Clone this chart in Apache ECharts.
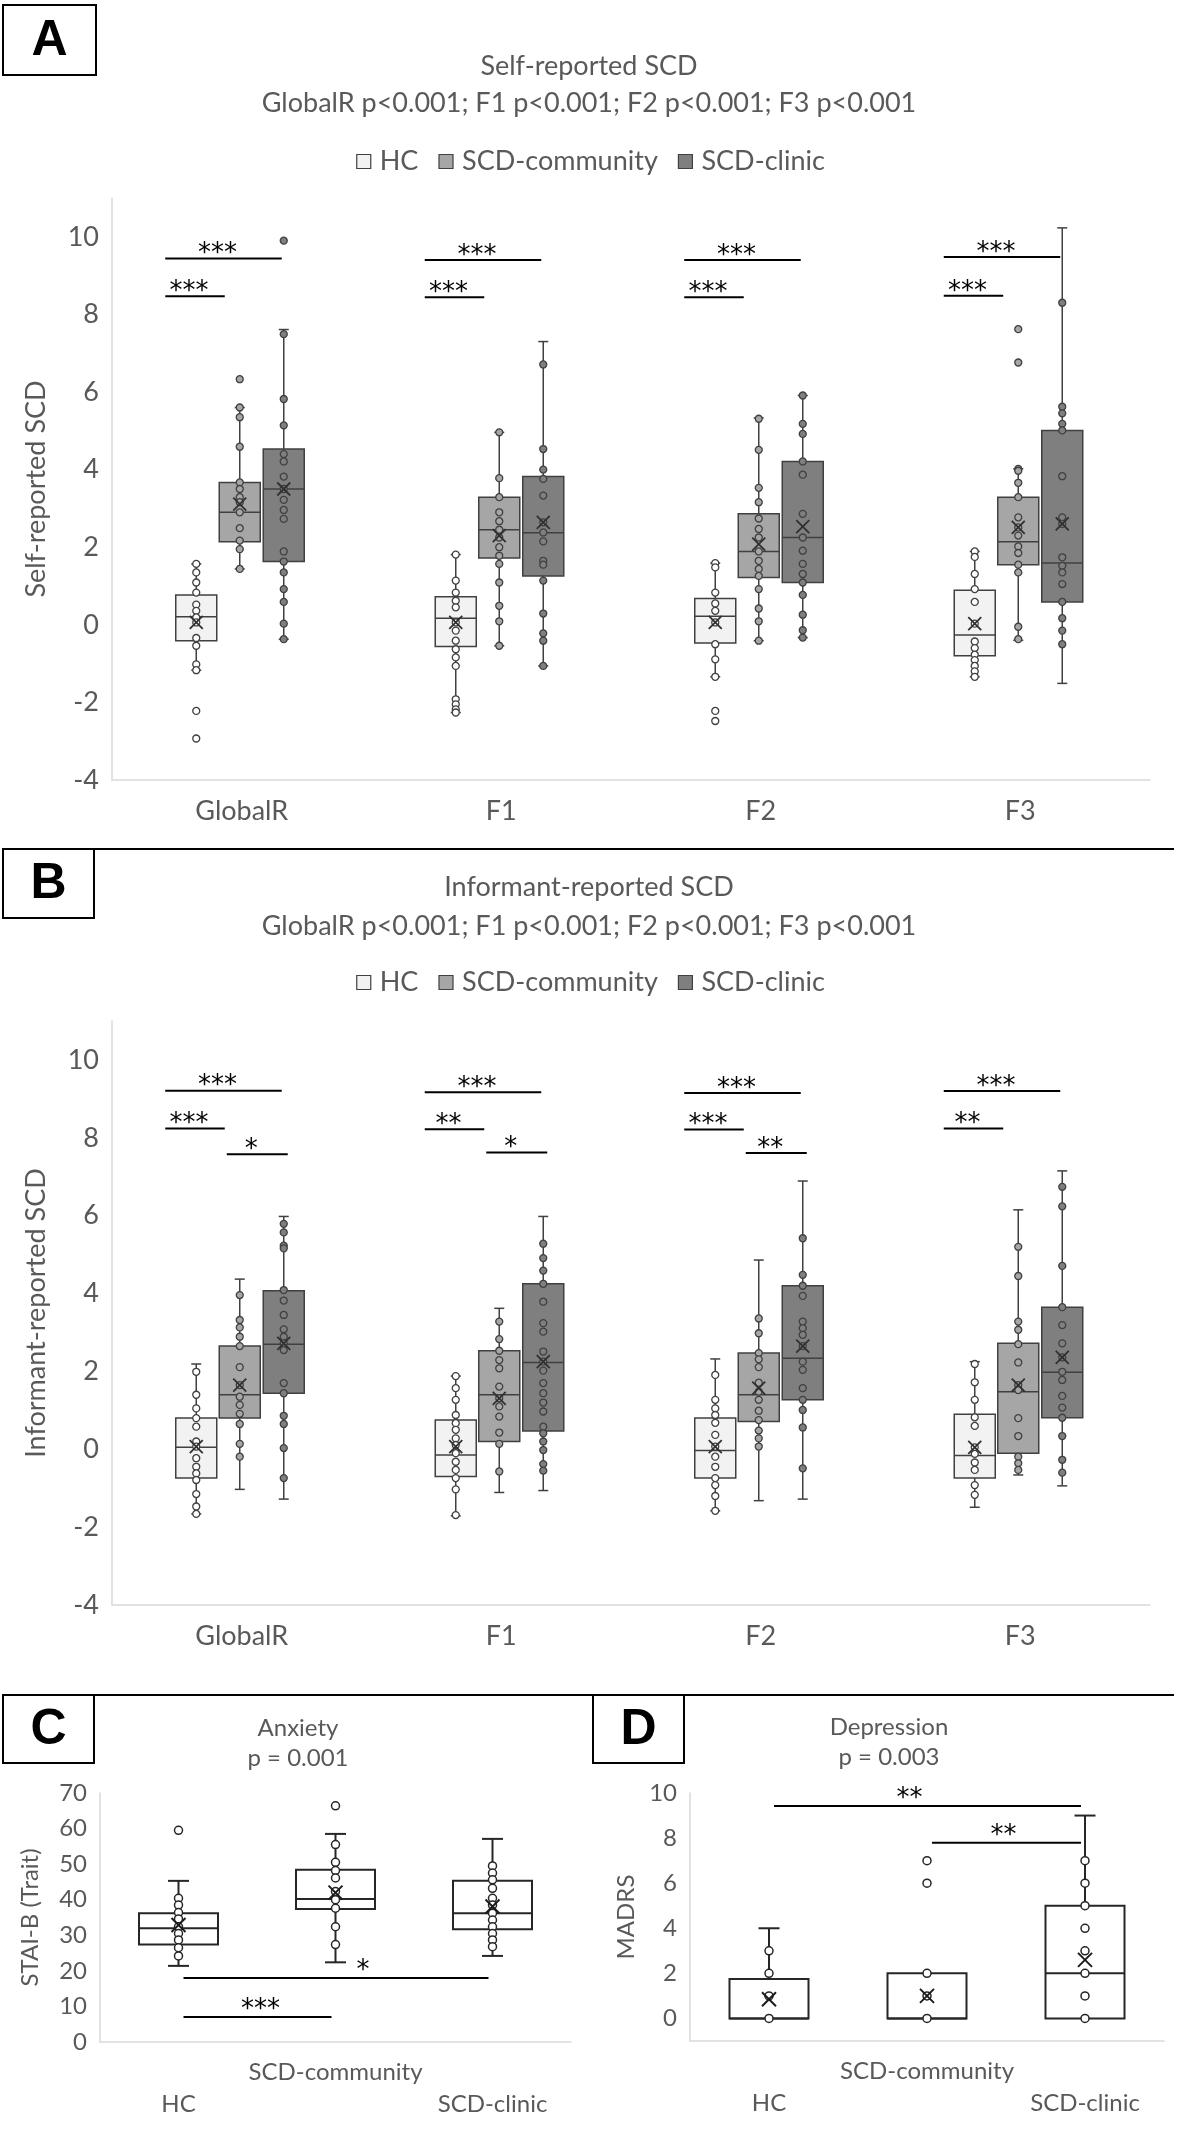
<!DOCTYPE html>
<html><head><meta charset="utf-8">
<script src="https://cdn.jsdelivr.net/npm/echarts@6/dist/echarts.min.js"></script>
<style>html,body{margin:0;padding:0;background:#fff}#c{width:1181px;height:2138px}</style>
</head><body><div id="c"></div>
<script>
// ---------- DATA ----------
const factorCats = ['GlobalR', 'F1', 'F2', 'F3'];
const groupNames = ['HC', 'SCD-community', 'SCD-clinic'];
const moodCats = ['HC', 'SCD-community', 'SCD-clinic'];

// box stats per category: [whiskerLow, Q1, median, Q3, whiskerHigh, mean]
const selfBoxHC = [[-1.17, -0.41, 0.21, 0.77, 1.57, 0.06], [-2.26, -0.56, 0.17, 0.72, 1.81, 0.06], [-1.34, -0.47, 0.22, 0.68, 1.59, 0.06], [-1.34, -0.80, -0.26, 0.89, 1.89, 0.03]];
const selfBoxComm = [[1.44, 2.14, 2.90, 3.67, 5.60, 3.11], [-0.54, 1.72, 2.45, 3.29, 4.96, 2.30], [-0.41, 1.22, 1.89, 2.86, 5.33, 2.08], [-0.40, 1.55, 2.14, 3.29, 4.02, 2.51]];
const selfBoxClinic = [[-0.37, 1.63, 3.50, 4.53, 7.61, 3.50], [-1.06, 1.26, 2.37, 3.82, 7.30, 2.64], [-0.33, 1.09, 2.25, 4.21, 5.91, 2.53], [-1.51, 0.59, 1.59, 5.01, 10.23, 2.60]];

const selfPtsHC = [
  [1.57, 1.35, 1.09, 0.83, 0.52, 0.36, 0.19, 0.06, -0.34, -0.54, -1.02, -1.17, -2.22, -2.93],
  [1.81, 1.14, 0.83, 0.62, 0.45, 0.06, -0.15, -0.41, -0.63, -0.84, -1.06, -1.92, -2.05, -2.18, -2.26],
  [1.59, 1.48, 0.83, 0.55, 0.36, 0.06, -0.50, -0.89, -1.34, -2.22, -2.48],
  [1.89, 1.75, 1.31, 0.92, 0.59, 0.03, -0.43, -0.60, -0.77, -0.91, -1.06, -1.20, -1.34]];
const selfPtsComm = [
  [6.33, 5.60, 5.35, 4.59, 3.67, 3.50, 3.29, 3.16, 2.90, 2.49, 2.17, 1.95, 1.44],
  [4.96, 3.78, 3.29, 2.90, 2.67, 2.45, 2.25, 2.00, 1.78, 1.57, 1.09, 0.49, 0.09, -0.54],
  [5.31, 4.51, 3.53, 3.16, 2.74, 2.47, 2.25, 1.89, 1.65, 1.44, 1.26, 0.92, 0.42, 0.09, -0.41],
  [7.62, 6.76, 4.02, 3.97, 3.66, 3.29, 2.77, 2.51, 2.30, 2.02, 1.85, 1.55, 1.35, -0.05, -0.37]];
const selfPtsClinic = [
  [9.90, 7.49, 5.82, 5.14, 4.40, 4.21, 3.82, 3.50, 3.22, 2.96, 2.73, 1.89, 1.63, 1.35, 0.92, 0.59, 0.03, -0.37],
  [6.71, 4.53, 4.00, 3.76, 3.33, 2.64, 2.38, 2.15, 1.65, 1.55, 1.14, 0.29, -0.22, -0.41, -1.06],
  [5.91, 5.18, 4.92, 4.21, 3.87, 2.86, 2.25, 1.91, 1.57, 1.31, 1.09, 0.77, 0.26, -0.14, -0.33],
  [8.30, 5.62, 5.45, 5.18, 5.01, 3.83, 2.77, 2.60, 1.74, 1.52, 1.35, 1.05, 0.59, 0.17, -0.15, -0.50]];

const infBoxHC = [[-1.66, -0.74, 0.05, 0.80, 2.19, 0.07], [-1.71, -0.70, -0.15, 0.75, 1.88, 0.07], [-1.58, -0.74, -0.03, 0.80, 2.32, 0.07], [-1.49, -0.74, -0.16, 0.90, 2.25, 0.05]];
const infBoxComm = [[-1.03, 0.80, 1.40, 2.65, 4.37, 1.65], [-1.11, 0.20, 1.40, 2.53, 3.62, 1.31], [-1.32, 0.71, 1.40, 2.47, 4.86, 1.57], [-0.66, -0.10, 1.48, 2.72, 6.15, 1.65]];
const infBoxClinic = [[-1.28, 1.44, 2.70, 4.07, 5.98, 2.72], [-1.06, 0.47, 2.23, 4.25, 5.98, 2.25], [-1.28, 1.27, 2.34, 4.20, 6.89, 2.65], [-0.94, 0.81, 1.98, 3.65, 7.15, 2.36]];

const infPtsHC = [
  [1.99, 1.40, 1.05, 0.80, 0.58, 0.20, 0.07, -0.23, -0.45, -0.62, -0.79, -1.15, -1.47, -1.66],
  [1.88, 1.57, 1.27, 0.88, 0.67, 0.50, 0.28, 0.11, -0.10, -0.32, -0.53, -0.74, -1.03, -1.69],
  [1.91, 1.27, 1.05, 0.88, 0.68, 0.37, 0.07, -0.19, -0.45, -0.74, -0.92, -1.20, -1.58],
  [2.19, 1.72, 1.27, 0.82, 0.60, 0.05, -0.12, -0.34, -0.53, -0.92, -1.17]];
const infPtsComm = [
  [3.96, 3.32, 3.13, 2.89, 2.65, 2.11, 1.65, 1.35, 1.14, 0.91, 0.65, 0.14, -0.19],
  [3.28, 2.83, 2.53, 2.29, 2.08, 1.61, 1.31, 1.10, 0.84, 0.43, 0.14, -0.57],
  [3.36, 2.98, 2.47, 2.31, 2.11, 1.71, 1.48, 1.27, 0.99, 0.75, 0.48, 0.28, 0.07],
  [5.20, 4.45, 3.28, 3.07, 2.70, 2.23, 1.65, 1.52, 0.80, 0.34, -0.19, -0.36, -0.53]];
const infPtsClinic = [
  [5.79, 5.57, 5.23, 5.16, 4.09, 3.82, 3.45, 3.08, 2.89, 2.72, 2.55, 1.70, 1.44, 0.86, 0.65, 0.03, -0.74],
  [5.28, 4.91, 4.59, 4.25, 3.79, 3.24, 3.02, 2.51, 2.25, 2.02, 1.70, 1.44, 1.20, 0.97, 0.58, 0.41, 0.20, -0.02, -0.38, -0.55],
  [5.42, 4.48, 4.20, 3.94, 3.28, 3.11, 2.94, 2.65, 2.25, 2.04, 1.57, 1.27, 1.01, 0.56, -0.49],
  [6.74, 6.24, 4.71, 3.65, 3.19, 2.72, 2.36, 1.99, 1.78, 1.37, 1.07, 0.81, 0.34, -0.27, -0.60]];

// significance: [category, fromGroup, toGroup, level, stars]
const selfSig = [[0, 0, 2, 9.44, '***'], [0, 0, 1, 8.47, '***'], [1, 0, 2, 9.40, '***'], [1, 0, 1, 8.44, '***'],
  [2, 0, 2, 9.40, '***'], [2, 0, 1, 8.44, '***'], [3, 0, 2, 9.48, '***'], [3, 0, 1, 8.48, '***']];
const infSig = [[0, 0, 2, 9.21, '***'], [0, 0, 1, 8.24, '***'], [0, 1, 2, 7.58, '*'],
  [1, 0, 2, 9.17, '***'], [1, 0, 1, 8.22, '**'], [1, 1, 2, 7.62, '*'],
  [2, 0, 2, 9.15, '***'], [2, 0, 1, 8.21, '***'], [2, 1, 2, 7.61, '**'],
  [3, 0, 2, 9.20, '***'], [3, 0, 1, 8.24, '**']];

// Anxiety (STAI-B trait)
const anxBox = [[21.4, 27.4, 32.0, 36.2, 45.3, 32.9], [22.4, 37.4, 40.2, 48.4, 58.5, 42.0], [24.2, 31.7, 36.2, 45.3, 57.1, 38.1]];
const anxPts = [
  [59.5, 40.4, 38.5, 36.4, 34.6, 32.4, 30.5, 28.7, 26.5, 24.2],
  [66.4, 55.5, 50.5, 48.2, 46.1, 42.3, 40.0, 37.6, 32.4, 27.4],
  [49.5, 47.5, 45.6, 43.2, 40.4, 38.5, 36.2, 34.3, 32.4, 30.5, 28.7, 26.8]];
const anxSig = [[0, 2, 18.0, '*'], [0, 1, 7.0, '***']];

// Depression (MADRS)
const depBox = [[0, 0, 0, 1.75, 4, 0.85], [0, 0, 0, 2, 2, 1.0], [0, 0, 2, 5, 9, 2.6]];
const depPts = [[3, 2, 1, 0], [7, 6, 2, 1, 0], [7, 6, 5, 4, 3, 2, 1, 0]];
const depSig = [[0, 2, 9.42, '**'], [1, 2, 7.79, '**']];

// ---------- STYLE ----------
const FONT = 'Lato, "Open Sans", sans-serif';
const STAR_FONT = '"DejaVu Sans", sans-serif';
const TXT = '#595959';
const AX = '#d9d9d9';
const EDGE = '#404040';
const FILLS = ['#f2f2f2', '#a6a6a6', '#7f7f7f'];
const PT_FILLS = ['#ffffff', '#a6a6a6', '#7f7f7f'];
const GROUP_DX = [-45.5, -2, 42];
const BOX_W = 41;

function flatPts(arr) { const o = []; arr.forEach((vals, i) => vals.forEach(v => o.push([i, v]))); return o; }
function boxData(arr) { return arr.map((b, i) => [i].concat(b)); }

function boxRender(dx, bw, capW, fill, stroke, lw) {
  return function (params, api) {
    const c = api.value(0);
    const pMin = api.coord([c, api.value(1)]);
    const pQ1 = api.coord([c, api.value(2)]);
    const pMed = api.coord([c, api.value(3)]);
    const pQ3 = api.coord([c, api.value(4)]);
    const pMax = api.coord([c, api.value(5)]);
    const x = pMin[0] + dx, L = x - bw / 2, R = x + bw / 2;
    const ls = { stroke: stroke, lineWidth: lw };
    const ch = [];
    if (pMax[1] < pQ3[1] - 0.5) {
      ch.push({ type: 'line', shape: { x1: x, y1: pQ3[1], x2: x, y2: pMax[1] }, style: ls });
      ch.push({ type: 'line', shape: { x1: x - capW / 2, y1: pMax[1], x2: x + capW / 2, y2: pMax[1] }, style: ls });
    }
    if (pMin[1] > pQ1[1] + 0.5) {
      ch.push({ type: 'line', shape: { x1: x, y1: pQ1[1], x2: x, y2: pMin[1] }, style: ls });
      ch.push({ type: 'line', shape: { x1: x - capW / 2, y1: pMin[1], x2: x + capW / 2, y2: pMin[1] }, style: ls });
    }
    ch.push({ type: 'rect', shape: { x: L, y: pQ3[1], width: bw, height: pQ1[1] - pQ3[1] }, style: { fill: fill, stroke: stroke, lineWidth: lw } });
    ch.push({ type: 'line', shape: { x1: L, y1: pMed[1], x2: R, y2: pMed[1] }, style: ls });
    return { type: 'group', children: ch };
  };
}
function meanRender(dx, s, stroke, lw) {
  return function (params, api) {
    const p = api.coord([api.value(0), api.value(6)]);
    const x = p[0] + dx, y = p[1];
    const ls = { stroke: stroke, lineWidth: lw };
    return { type: 'group', children: [
      { type: 'line', shape: { x1: x - s / 2, y1: y - s / 2, x2: x + s / 2, y2: y + s / 2 }, style: ls },
      { type: 'line', shape: { x1: x - s / 2, y1: y + s / 2, x2: x + s / 2, y2: y - s / 2 }, style: ls }] };
  };
}
// pixel extents of bracket lines relative to group centres, by pair
const PAIR_SPAN = { '0-2': [-31, -2], '0-1': [-31, -15], '1-2': [-13, 4] };
function starText(x, y, s) {
  return { type: 'text', x: x, y: y, style: { text: s, fill: '#000', font: '26px ' + STAR_FONT, textAlign: 'center', textVerticalAlign: 'middle' } };
}
function sigRenderFactor(sig) {
  return function (params, api) {
    const s = sig[params.dataIndex];
    const p = api.coord([s[0], s[3]]);
    const span = PAIR_SPAN[s[1] + '-' + s[2]];
    const x1 = p[0] + GROUP_DX[s[1]] + span[0], x2 = p[0] + GROUP_DX[s[2]] + span[1];
    return { type: 'group', children: [
      { type: 'line', shape: { x1: x1, y1: p[1], x2: x2, y2: p[1] }, style: { stroke: '#000', lineWidth: 2 } },
      starText((x1 + x2) / 2 - 6, p[1] - 4, s[4])] };
  };
}
function sigRenderMood(sig, textDx) {
  return function (params, api) {
    const s = sig[params.dataIndex];
    const a = api.coord([s[0], s[2]]), b = api.coord([s[1], s[2]]);
    const x1 = a[0] + 5, x2 = b[0] - 4;
    return { type: 'group', children: [
      { type: 'line', shape: { x1: x1, y1: a[1], x2: x2, y2: a[1] }, style: { stroke: '#000', lineWidth: 2 } },
      starText((x1 + x2) / 2 + (textDx[s[0] + '-' + s[1]] || 0), a[1] - 7, s[3])] };
  };
}

const series = [];
function addFactorPanel(gi, boxes, pts, sig) {
  for (let g = 0; g < 3; g++) {
    series.push({ type: 'custom', name: groupNames[g], coordinateSystem: 'cartesian2d', xAxisIndex: gi, yAxisIndex: gi, z: 2,
      encode: { x: 0, y: [1, 2, 3, 4, 5] }, data: boxData(boxes[g]),
      itemStyle: { color: FILLS[g] },
      renderItem: boxRender(GROUP_DX[g], BOX_W, 10, FILLS[g], EDGE, 1.5) });
    series.push({ type: 'scatter', name: groupNames[g] + ' pts', xAxisIndex: gi, yAxisIndex: gi, z: 3,
      data: flatPts(pts[g]), symbol: 'circle', symbolSize: 7, symbolOffset: [GROUP_DX[g], 0],
      itemStyle: { color: PT_FILLS[g], borderColor: EDGE, borderWidth: 1.3, opacity: 1 } });
    series.push({ type: 'custom', name: groupNames[g] + ' mean', coordinateSystem: 'cartesian2d', xAxisIndex: gi, yAxisIndex: gi, z: 4,
      encode: { x: 0, y: 6 }, data: boxData(boxes[g]), renderItem: meanRender(GROUP_DX[g], 13, '#303030', 1.8) });
  }
  series.push({ type: 'custom', coordinateSystem: 'cartesian2d', xAxisIndex: gi, yAxisIndex: gi, z: 5,
    encode: { x: 0, y: 1 }, data: sig.map(s => [s[0], s[3]]), renderItem: sigRenderFactor(sig) });
}
function addMoodPanel(gi, boxes, pts, sig, textDx) {
  series.push({ type: 'custom', coordinateSystem: 'cartesian2d', xAxisIndex: gi, yAxisIndex: gi, z: 2,
    encode: { x: 0, y: [1, 2, 3, 4, 5] }, data: boxData(boxes), renderItem: boxRender(0, 79, 21, '#ffffff', '#262626', 2) });
  series.push({ type: 'scatter', xAxisIndex: gi, yAxisIndex: gi, z: 3, data: flatPts(pts), symbol: 'circle', symbolSize: 8,
    itemStyle: { color: '#ffffff', borderColor: '#262626', borderWidth: 1.5, opacity: 1 } });
  series.push({ type: 'custom', coordinateSystem: 'cartesian2d', xAxisIndex: gi, yAxisIndex: gi, z: 4,
    encode: { x: 0, y: 6 }, data: boxData(boxes), renderItem: meanRender(0, 14, '#1a1a1a', 2) });
  series.push({ type: 'custom', coordinateSystem: 'cartesian2d', xAxisIndex: gi, yAxisIndex: gi, z: 5,
    encode: { x: 0, y: 1 }, data: sig.map(s => [s[0], s[2]]), renderItem: sigRenderMood(sig, textDx) });
}
addFactorPanel(0, [selfBoxHC, selfBoxComm, selfBoxClinic], [selfPtsHC, selfPtsComm, selfPtsClinic], selfSig);
addFactorPanel(1, [infBoxHC, infBoxComm, infBoxClinic], [infPtsHC, infPtsComm, infPtsClinic], infSig);
addMoodPanel(2, anxBox, anxPts, anxSig, { '0-2': 27, '0-1': 3 });
addMoodPanel(3, depBox, depPts, depSig, { '0-2': -18, '1-2': -3 });

function catAxis(gi, data, fs, staggered) {
  return { type: 'category', gridIndex: gi, data: data,
    axisLine: { show: true, onZero: false, lineStyle: { color: AX, width: 1.5 } }, axisTick: { show: false },
    axisLabel: staggered
      ? { interval: 0, hideOverlap: false, fontSize: fs, color: TXT, fontFamily: FONT, margin: 14, lineHeight: 32, formatter: (v, i) => (i % 2 === 0 ? '\n' + v : v) }
      : { interval: 0, fontSize: fs, color: TXT, fontFamily: FONT, margin: 18 } };
}
function valAxis(gi, min, max, labels, name, fs, nameGap) {
  return { type: 'value', gridIndex: gi, min: min, max: max, splitLine: { show: false },
    axisLine: { show: true, lineStyle: { color: AX, width: 1.5 } }, axisTick: { show: false },
    axisLabel: { customValues: labels, fontSize: fs, color: TXT, fontFamily: FONT, margin: 13 },
    name: name, nameLocation: 'middle', nameGap: nameGap, nameRotate: 90,
    nameTextStyle: { fontSize: fs, color: TXT, fontFamily: FONT } };
}
const factorTicks = [-4, -2, 0, 2, 4, 6, 8, 10];
const anxTicks = [0, 10, 20, 30, 40, 50, 60, 70];
const depTicks = [0, 2, 4, 6, 8, 10];

function legendFor(top) {
  return { top: top, left: 'center', icon: 'rect', itemWidth: 14, itemHeight: 14, itemGap: 20, selectedMode: false,
    textStyle: { fontSize: 27, color: TXT, fontFamily: FONT, padding: [0, 0, 0, 4] },
    data: groupNames.map((n, g) => ({ name: n, itemStyle: { color: FILLS[g], borderColor: EDGE, borderWidth: 1.2 } })) };
}
function titleAt(text, x, top, fs, lh) {
  return { text: text, left: x, top: top, textAlign: 'center',
    textStyle: { fontSize: fs, fontWeight: 'normal', color: TXT, fontFamily: FONT, lineHeight: lh } };
}
function panelLetter(letter, x, y, w, h) {
  return [
    { type: 'rect', shape: { x: x, y: y, width: w, height: h }, style: { fill: '#fff', stroke: '#000', lineWidth: 2 }, z: 10 },
    { type: 'text', x: x + w / 2, y: y + h / 2 + 1, style: { text: letter, fill: '#000', font: 'bold 50px "Liberation Sans", Arial, sans-serif', textAlign: 'center', textVerticalAlign: 'middle' }, z: 11 }];
}

const option = {
  animation: false,
  backgroundColor: '#ffffff',
  title: [
    titleAt('Self-reported SCD\nGlobalR p<0.001; F1 p<0.001; F2 p<0.001; F3 p<0.001', 584, 43, 27, 37),
    titleAt('Informant-reported SCD\nGlobalR p<0.001; F1 p<0.001; F2 p<0.001; F3 p<0.001', 584, 863, 27, 39),
    titleAt('Anxiety\np = 0.001', 293, 1708, 24, 30),
    titleAt('Depression\np = 0.003', 884, 1707, 24, 30)],
  legend: [legendFor(143), legendFor(964)],
  grid: [
    { left: 112, top: 198, width: 1038, height: 582 },
    { left: 112, top: 1021, width: 1038, height: 584 },
    { left: 100, top: 1793, width: 471, height: 249 },
    { left: 690, top: 1793, width: 474, height: 248 }],
  xAxis: [catAxis(0, factorCats, 27, false), catAxis(1, factorCats, 27, false), catAxis(2, moodCats, 24, true), catAxis(3, moodCats, 24, true)],
  yAxis: [
    valAxis(0, -4, 11, factorTicks, 'Self-reported SCD', 27, 62),
    valAxis(1, -4, 11, factorTicks, 'Informant-reported SCD', 27, 62),
    valAxis(2, 0, 70, anxTicks, 'STAI-B (Trait)', 24, 58),
    valAxis(3, -1, 10, depTicks, 'MADRS', 24, 52)],
  graphic: [
    { type: 'line', shape: { x1: 3, y1: 849, x2: 1174, y2: 849 }, style: { stroke: '#000', lineWidth: 2 }, z: 9 },
    { type: 'line', shape: { x1: 3, y1: 1695, x2: 1174, y2: 1695 }, style: { stroke: '#000', lineWidth: 2 }, z: 9 }]
    .concat(panelLetter('A', 3, 5, 93, 70))
    .concat(panelLetter('B', 3, 849, 91, 69))
    .concat(panelLetter('C', 3, 1695, 91, 68))
    .concat(panelLetter('D', 593, 1695, 91, 68)),
  series: series
};
const chart = echarts.init(document.getElementById('c'), null, { renderer: 'canvas' });
chart.setOption(option);
</script></body></html>
